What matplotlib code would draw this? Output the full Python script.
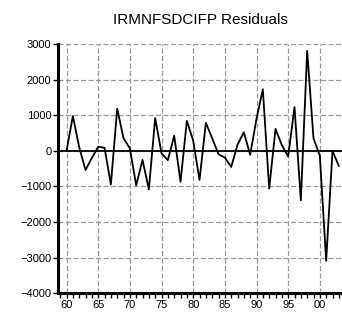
import numpy as np
import matplotlib
matplotlib.use("Agg")
import matplotlib.pyplot as plt
from matplotlib.ticker import MultipleLocator, FuncFormatter

plt.rcParams['font.family'] = ['Liberation Sans', 'DejaVu Sans']

years = np.arange(1960, 2004)
resid = [0, 975, 100, -540, -200, 113, 85, -945, 1180, 350,
         68, -970, -255, -1085, 918, -75, -263, 425, -870, 840,
         283, -820, 785, 350, -95, -190, -453, 170, 520, -113,
         900, 1728, -1065, 615, 160, -160, 1228, -1388, 2805, 350,
         -140, -3088, 0, -425]
y_ticks = [-4000, -3000, -2000, -1000, 0, 1000, 2000, 3000]
x_ticks = [1960, 1965, 1970, 1975, 1980, 1985, 1990, 1995, 2000]

fig = plt.figure(figsize=(3.42, 3.23), dpi=100)
ax = fig.add_axes([0.1705, 0.092, 0.8295, 0.772])

ax.plot(years, resid, color="black", lw=1.3, zorder=3)
ax.axhline(0, color="black", lw=1.3, zorder=2)

ax.set_xlim(1958.7, 2003.5)
ax.set_ylim(-4000, 3000)
ax.set_yticks(y_ticks)
ax.set_xticks(x_ticks)
ax.xaxis.set_minor_locator(MultipleLocator(1))
ax.xaxis.set_major_formatter(FuncFormatter(lambda v, p: "%02d" % (int(v) % 100)))

# dashed grey grid at the major ticks
ax.grid(True, which="major", color="#999999", linestyle=(0, (4, 2)), lw=0.9)
ax.set_axisbelow(True)

for s in ["top", "right"]:
    ax.spines[s].set_visible(False)
for s in ["left", "bottom"]:
    ax.spines[s].set_linewidth(2.2)

ax.tick_params(axis="both", which="both", direction="out", length=3.5, width=1, labelsize=8, pad=1.5)
ax.tick_params(axis="x", which="minor", length=3.5)

ax.set_title("IRMNFSDCIFP Residuals", fontsize=11, pad=14)

fig.savefig("out.png", dpi=100)
